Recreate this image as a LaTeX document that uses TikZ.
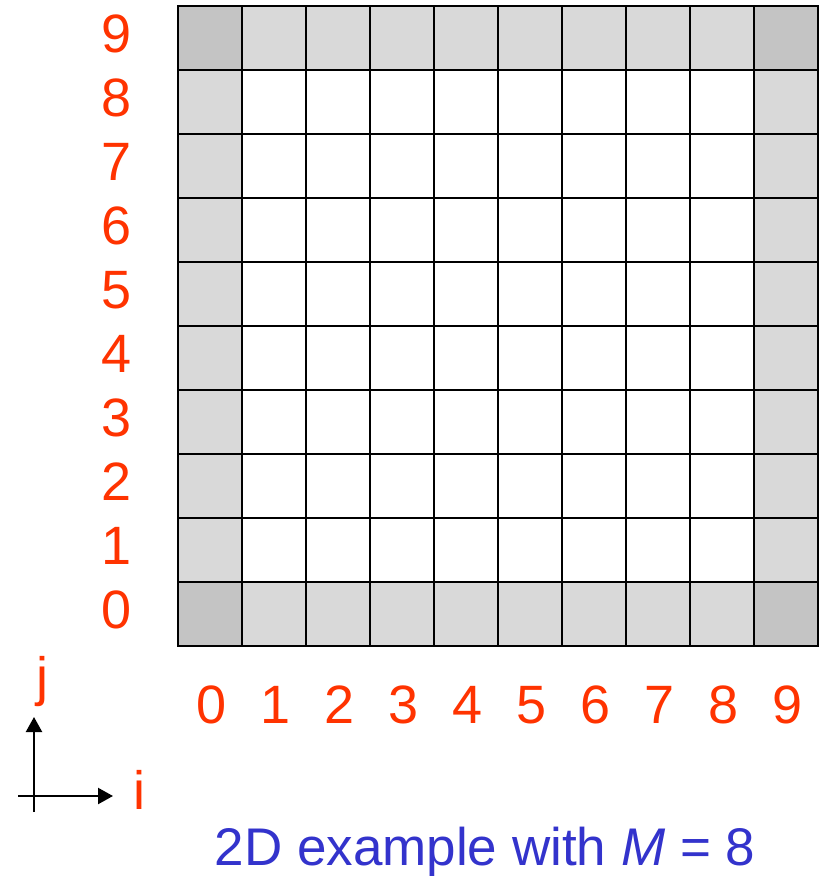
\documentclass[tikz,border=0pt]{standalone}
\usepackage{fontspec}
\setmainfont{Liberation Sans}
\usetikzlibrary{arrows.meta}
\definecolor{lblred}{HTML}{FF3300}
\definecolor{capblue}{HTML}{3333CC}
\definecolor{edgegray}{HTML}{D9D9D9}
\definecolor{cornergray}{HTML}{C4C4C4}
\tikzset{
  lbl/.style={text=lblred, font=\fontsize{54}{60}\selectfont, anchor=base, inner sep=0pt},
  captiontext/.style={text=capblue, font=\fontsize{53}{60}\selectfont, anchor=base, inner sep=0pt},
  gridline/.style={line width=2pt, black},
  axisarrow/.style={line width=2.2pt, -{Triangle[length=15pt,width=16pt]}}
}
\begin{document}
\begin{tikzpicture}[x=1pt,y=-1pt]
\useasboundingbox (0,0) rectangle (823,876);
\fill[white] (0,0) rectangle (823,876);
% cells
\foreach \i in {0,...,9}{
  \foreach \j in {0,...,9}{
    \pgfmathsetmacro{\xa}{178+64*\i}
    \pgfmathsetmacro{\ya}{5.5+64*(9-\j)}
    \ifnum\i=0 \def\edgeA{1}\else\ifnum\i=9 \def\edgeA{1}\else\def\edgeA{0}\fi\fi
    \ifnum\j=0 \def\edgeB{1}\else\ifnum\j=9 \def\edgeB{1}\else\def\edgeB{0}\fi\fi
    \ifnum\edgeA\edgeB=11
      \fill[cornergray] (\xa,\ya) rectangle ++(64,64);
    \else\ifnum\edgeA\edgeB>0
      \fill[edgegray] (\xa,\ya) rectangle ++(64,64);
    \fi\fi
  }
}
% grid lines
\foreach \k in {0,...,10}{
  \pgfmathsetmacro{\gx}{178+64*\k}
  \pgfmathsetmacro{\gy}{5.5+64*\k}
  \draw[gridline] (\gx,5.5) -- (\gx,645.5);
  \draw[gridline] (178,\gy) -- (818,\gy);
}
\draw[gridline, line join=miter] (178,5.5) rectangle (818,645.5);
% row labels
\foreach \r in {0,...,9}{
  \pgfmathsetmacro{\ry}{5.5+64*(9-\r)+47}
  \node[lbl] (r\r) at (116.5,\ry) {\r};
}
% column labels
\foreach \c in {0,...,9}{
  \pgfmathsetmacro{\cx}{211.5+64*\c}
  \node[lbl] (c\c) at (\cx,723) {\c};
}
% axes
\coordinate (jb) at (34,812);
\coordinate (jt) at (34,717);
\coordinate (ib) at (18,796);
\coordinate (it) at (113,796);
\draw[axisarrow] (jb) -- (jt);
\draw[axisarrow] (ib) -- (it);
\node[lbl] (jlab) at (42,695) {j};
\node[lbl] (ilab) at (139.5,809) {i};
% caption
\node[captiontext] (caption) at (485,865) {2D example with \textit{M} = 8};
\end{tikzpicture}
\end{document}
